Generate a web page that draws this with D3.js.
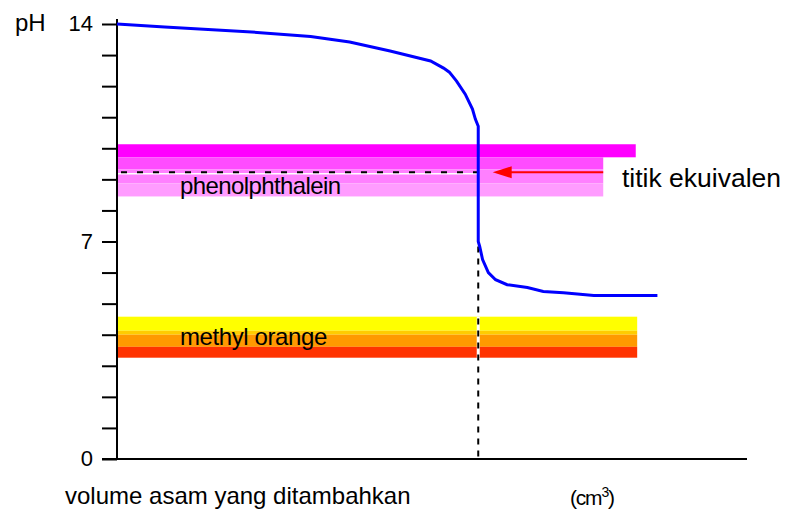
<!DOCTYPE html>
<html>
<head>
<meta charset="utf-8">
<script src="https://cdn.jsdelivr.net/npm/d3@7"></script>
<style>
  body { margin: 0; background: #fff; }
  svg { display: block; font-family: "Liberation Sans", Arial, sans-serif; }
</style>
</head>
<body>
<div id="chart"></div>
<script>
// titration curve (volume in cm3, pH)
var volume = [0, 3.3, 5.7, 9.7, 13.4, 16.1, 18.9, 21.7, 22.6, 23.0, 23.5, 24.1, 24.6, 24.8, 25.0, 25.0, 25.1, 25.3, 25.7, 26.2, 27.0, 28.4, 29.5, 30.9, 33.0, 37.4];
var pH     = [14.0, 13.9, 13.84, 13.73, 13.6, 13.42, 13.13, 12.81, 12.58, 12.45, 12.16, 11.74, 11.26, 10.94, 10.71, 7.0, 6.84, 6.42, 6.0, 5.77, 5.61, 5.52, 5.39, 5.35, 5.26, 5.26];

// indicator ranges (pH)
var phenolStops = [10.13, 9.71, 9.32, 8.87, 8.45];
var phenolColors = ["#ff00ff", "#ff4cff", "#ff80ff", "#ff9cff"];
var methylStops = [4.58, 4.13, 4.0, 3.61, 3.26];
var methylColors = ["#ffff00", "#ffcc00", "#ff9900", "#ff3300"];

var equivVolume = 25.0;
var equivPH = 9.23;
var yTicks = [0, 1, 2, 3, 4, 5, 6, 7, 8, 9, 10, 11, 12, 13, 14];
var yLabels = [0, 7, 14];

var width = 786, height = 512;

var svg = d3.select("#chart").append("svg")
  .attr("width", width)
  .attr("height", height);

var x = d3.scaleLinear().domain([0, 43.6]).range([117, 747]);
var y = d3.scaleLinear().domain([0, 14]).range([459, 24]);

// ----------------------------------------
// indicator bands
function band(stops, colors, xEnd, xEndTop) {
  colors.forEach(function (c, i) {
    var x1 = (i === 0 && xEndTop) ? xEndTop : xEnd;
    svg.append("rect")
      .attr("x", x(0))
      .attr("y", y(stops[i]))
      .attr("width", x(x1) - x(0))
      .attr("height", y(stops[i + 1]) - y(stops[i]))
      .attr("fill", c);
  });
}
band(phenolStops, phenolColors, 33.65, 35.9);
band(methylStops, methylColors, 36.0);

// equivalence dashed lines
svg.append("line")
  .attr("x1", x(0)).attr("x2", x(equivVolume))
  .attr("y1", y(equivPH) + 1.5).attr("y2", y(equivPH) + 1.5)
  .attr("stroke", "#fff").attr("stroke-width", 1.5);
svg.append("line")
  .attr("x1", x(0) + 4).attr("x2", x(equivVolume))
  .attr("y1", y(equivPH)).attr("y2", y(equivPH))
  .attr("stroke", "#000").attr("stroke-width", 2)
  .attr("stroke-dasharray", "6,10");

svg.append("line")
  .attr("x1", x(equivVolume)).attr("x2", x(equivVolume))
  .attr("y1", y(methylStops[0])).attr("y2", y(methylStops[4]))
  .attr("stroke", "#fff").attr("stroke-width", 3);
svg.append("line")
  .attr("x1", x(equivVolume)).attr("x2", x(equivVolume))
  .attr("y1", y(6.84)).attr("y2", y(0))
  .attr("stroke", "#000").attr("stroke-width", 2)
  .attr("stroke-dasharray", "6,6");

// arrow to the equivalence point
svg.append("line")
  .attr("x1", x(33.65)).attr("x2", x(26.9))
  .attr("y1", y(equivPH)).attr("y2", y(equivPH))
  .attr("stroke", "#ff0000").attr("stroke-width", 2);
svg.append("path")
  .attr("d", "M" + x(26.0) + "," + y(equivPH) +
    "L" + (x(26.0) + 19) + "," + (y(equivPH) - 6) +
    "L" + (x(26.0) + 19) + "," + (y(equivPH) + 6) + "Z")
  .attr("fill", "#ff0000");

// ----------------------------------------
// axes
var yAxis = d3.axisLeft(y).tickValues(yTicks).tickSize(15).tickFormat("");
svg.append("g")
  .attr("transform", "translate(" + x(0) + ",0)")
  .call(yAxis)
  .call(function (g) {
    g.select(".domain").remove();
    g.selectAll(".tick line").attr("stroke", "#000").attr("stroke-width", 2);
  });

svg.append("line")
  .attr("x1", x(0)).attr("x2", x(0))
  .attr("y1", y(14) - 5).attr("y2", y(0) + 1)
  .attr("stroke", "#000").attr("stroke-width", 2);
svg.append("line")
  .attr("x1", x(0) - 15).attr("x2", x(43.6))
  .attr("y1", y(0)).attr("y2", y(0))
  .attr("stroke", "#000").attr("stroke-width", 2);

svg.selectAll(".ylab")
  .data(yLabels)
  .enter().append("text")
  .attr("class", "ylab")
  .attr("x", 93)
  .attr("y", function (d) { return y(d) + 7; })
  .attr("text-anchor", "end")
  .attr("font-size", 22)
  .text(function (d) { return d; });

svg.append("text")
  .attr("x", 15).attr("y", 31)
  .attr("font-size", 24)
  .text("pH");

// ----------------------------------------
// curve
var line = d3.line()
  .x(function (d) { return x(d[0]); })
  .y(function (d) { return y(d[1]); });

svg.append("path")
  .attr("d", line(d3.zip(volume, pH)))
  .attr("fill", "none")
  .attr("stroke", "#0000ff")
  .attr("stroke-width", 3);

// ----------------------------------------
// labels
svg.append("text")
  .attr("x", 180).attr("y", 194)
  .attr("font-size", 24)
  .attr("letter-spacing", -0.6)
  .text("phenolphthalein");

svg.append("text")
  .attr("x", 180).attr("y", 345)
  .attr("font-size", 24)
  .attr("letter-spacing", -0.4)
  .text("methyl orange");

svg.append("text")
  .attr("x", 622).attr("y", 187)
  .attr("font-size", 26.5)
  .text("titik ekuivalen");

svg.append("text")
  .attr("x", 65).attr("y", 504)
  .attr("font-size", 24)
  .text("volume asam yang ditambahkan");

var unit = svg.append("text")
  .attr("x", 570).attr("y", 505)
  .attr("font-size", 21)
  .attr("letter-spacing", -1.2);
unit.append("tspan").text("(cm");
unit.append("tspan").attr("dy", -8).attr("font-size", 14).text("3");
unit.append("tspan").attr("dy", 8).text(")");
</script>
</body>
</html>
